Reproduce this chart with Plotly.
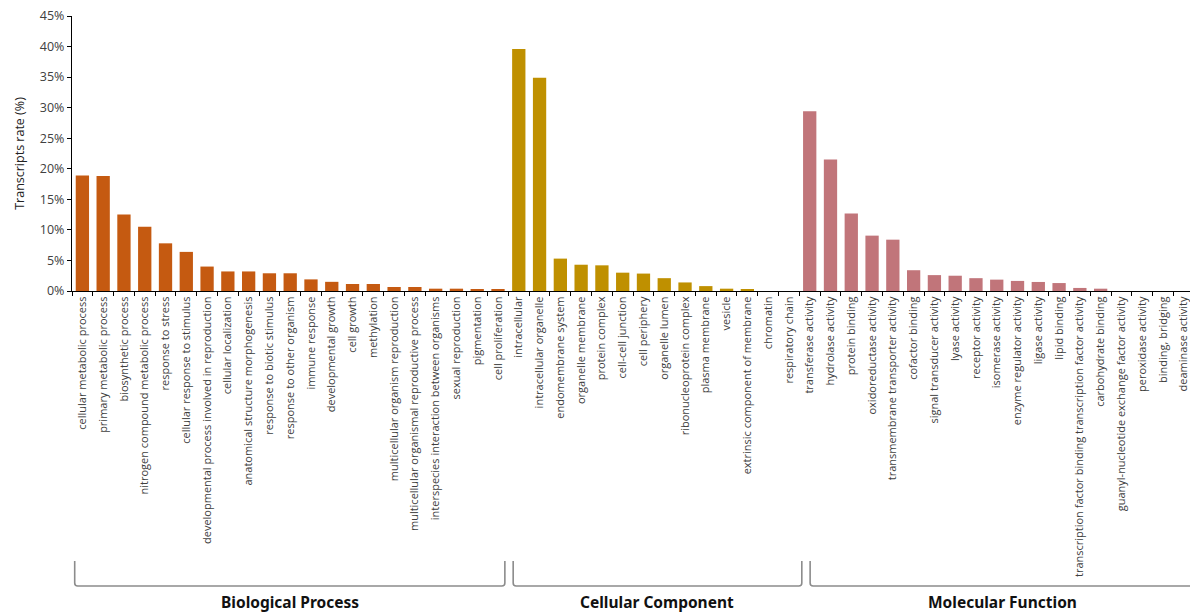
import plotly.graph_objects as go

# GO term categories, grouped by ontology
bp_terms = [
    "cellular metabolic process", "primary metabolic process", "biosynthetic process",
    "nitrogen compound metabolic process", "response to stress", "cellular response to stimulus",
    "developmental process involved in reproduction", "cellular localization",
    "anatomical structure morphogenesis", "response to biotic stimulus",
    "response to other organism", "immune response", "developmental growth", "cell growth",
    "methylation", "multicellular organism reproduction",
    "multicellular organismal reproductive process",
    "interspecies interaction between organisms", "sexual reproduction", "pigmentation",
    "cell proliferation",
]
bp_values = [18.9, 18.8, 12.5, 10.5, 7.8, 6.4, 4.0, 3.2, 3.2, 2.9, 2.9, 1.9, 1.5, 1.15,
             1.15, 0.66, 0.66, 0.38, 0.38, 0.28, 0.28]

cc_terms = [
    "intracellular", "intracellular organelle", "endomembrane system", "organelle membrane",
    "protein complex", "cell-cell junction", "cell periphery", "organelle lumen",
    "ribonucleoprotein complex", "plasma membrane", "vesicle",
    "extrinsic component of membrane", "chromatin", "respiratory chain",
]
cc_values = [39.6, 34.9, 5.3, 4.3, 4.2, 3.0, 2.85, 2.1, 1.4, 0.8, 0.38, 0.28, 0, 0]

mf_terms = [
    "transferase activity", "hydrolase activity", "protein binding", "oxidoreductase activity",
    "transmembrane transporter activity", "cofactor binding", "signal transducer activity",
    "lyase activity", "receptor activity", "isomerase activity", "enzyme regulator activity",
    "ligase activity", "lipid binding",
    "transcription factor binding transcription factor activity", "carbohydrate binding",
    "guanyl-nucleotide exchange factor activity", "peroxidase activity", "binding, bridging",
    "deaminase activity",
]
mf_values = [29.4, 21.5, 12.7, 9.06, 8.4, 3.4, 2.6, 2.5, 2.1, 1.86, 1.65, 1.48, 1.3, 0.5,
             0.38, 0, 0, 0, 0]

group_names = ["Biological Process", "Cellular Component", "Molecular Function"]
group_colors = ["#C55A11", "#BF9000", "#C1757A"]
y_ticks = [0, 5, 10, 15, 20, 25, 30, 35, 40, 45]

groups = [(bp_terms, bp_values), (cc_terms, cc_values), (mf_terms, mf_values)]

fig = go.Figure()
for (terms, vals), name, color in zip(groups, group_names, group_colors):
    fig.add_trace(go.Bar(x=terms, y=vals, name=name, marker_color=color,
                         marker_line_width=0, showlegend=False))

all_terms = bp_terms + cc_terms + mf_terms
x_range = [-0.5, 53.3]

# layout geometry (pixels)
W, H = 1190, 613
ml, mr, mt, mb = 72, 0, 16, 322
plot_w = W - ml - mr
plot_h = H - mt - mb


def px_to_paper_y(py):
    return (H - mb - py) / plot_h


def data_to_paper_x(xd):
    return (xd - x_range[0]) / (x_range[1] - x_range[0])


# braces under each ontology group (in category units)
brace_spans = [(-0.37, 20.33), (20.73, 34.62), (35.02, 54.5)]
y_top = px_to_paper_y(561)
y_bot = px_to_paper_y(586)
r_x = 3.0 / plot_w
r_y = 3.0 / plot_h
shapes = []
for x0d, x1d in brace_spans:
    x0 = data_to_paper_x(x0d)
    x1 = data_to_paper_x(x1d)
    path = (f"M {x0},{y_top} L {x0},{y_bot + r_y} Q {x0},{y_bot} {x0 + r_x},{y_bot} "
            f"L {x1 - r_x},{y_bot} Q {x1},{y_bot} {x1},{y_bot + r_y} L {x1},{y_top}")
    shapes.append(dict(type="path", path=path, xref="paper", yref="paper",
                       line=dict(color="#8C8C8C", width=1.6)))

annotations = []
label_centers = [290, 657, 1002]
for name, cx in zip(group_names, label_centers):
    annotations.append(dict(text=f"<b>{name}</b>", xref="paper", yref="paper",
                            x=(cx - ml) / plot_w, y=px_to_paper_y(602),
                            xanchor="center", yanchor="middle", showarrow=False,
                            font=dict(family="Noto Sans", size=15.5, color="#111111")))

fig.update_layout(
    width=W, height=H,
    margin=dict(l=ml, r=mr, t=mt, b=mb, autoexpand=False),
    paper_bgcolor="white", plot_bgcolor="white",
    bargap=0.36,
    shapes=shapes,
    annotations=annotations,
    xaxis=dict(
        type="category", categoryorder="array", categoryarray=all_terms,
        range=x_range, tickangle=-90, tickson="boundaries",
        ticks="outside", ticklen=4, tickcolor="#000000", tickwidth=1.2,
        showline=True, linecolor="#000000", linewidth=1.2,
        showgrid=False, zeroline=False,
        tickfont=dict(family="Open Sans", size=11, color="#404040"),
    ),
    yaxis=dict(
        range=[0, 45], tickvals=y_ticks, ticktext=[f"{v}%" for v in y_ticks],
        ticks="outside", ticklen=4, tickcolor="#000000", tickwidth=1.2,
        showline=True, linecolor="#000000", linewidth=1.2,
        showgrid=False, zeroline=False,
        tickfont=dict(family="Open Sans", size=12.5, color="#404040"),
        title=dict(text="Transcripts rate (%)", standoff=12,
                   font=dict(family="Open Sans", size=12.5, color="#222222")),
    ),
)

fig.write_html("out.html")
